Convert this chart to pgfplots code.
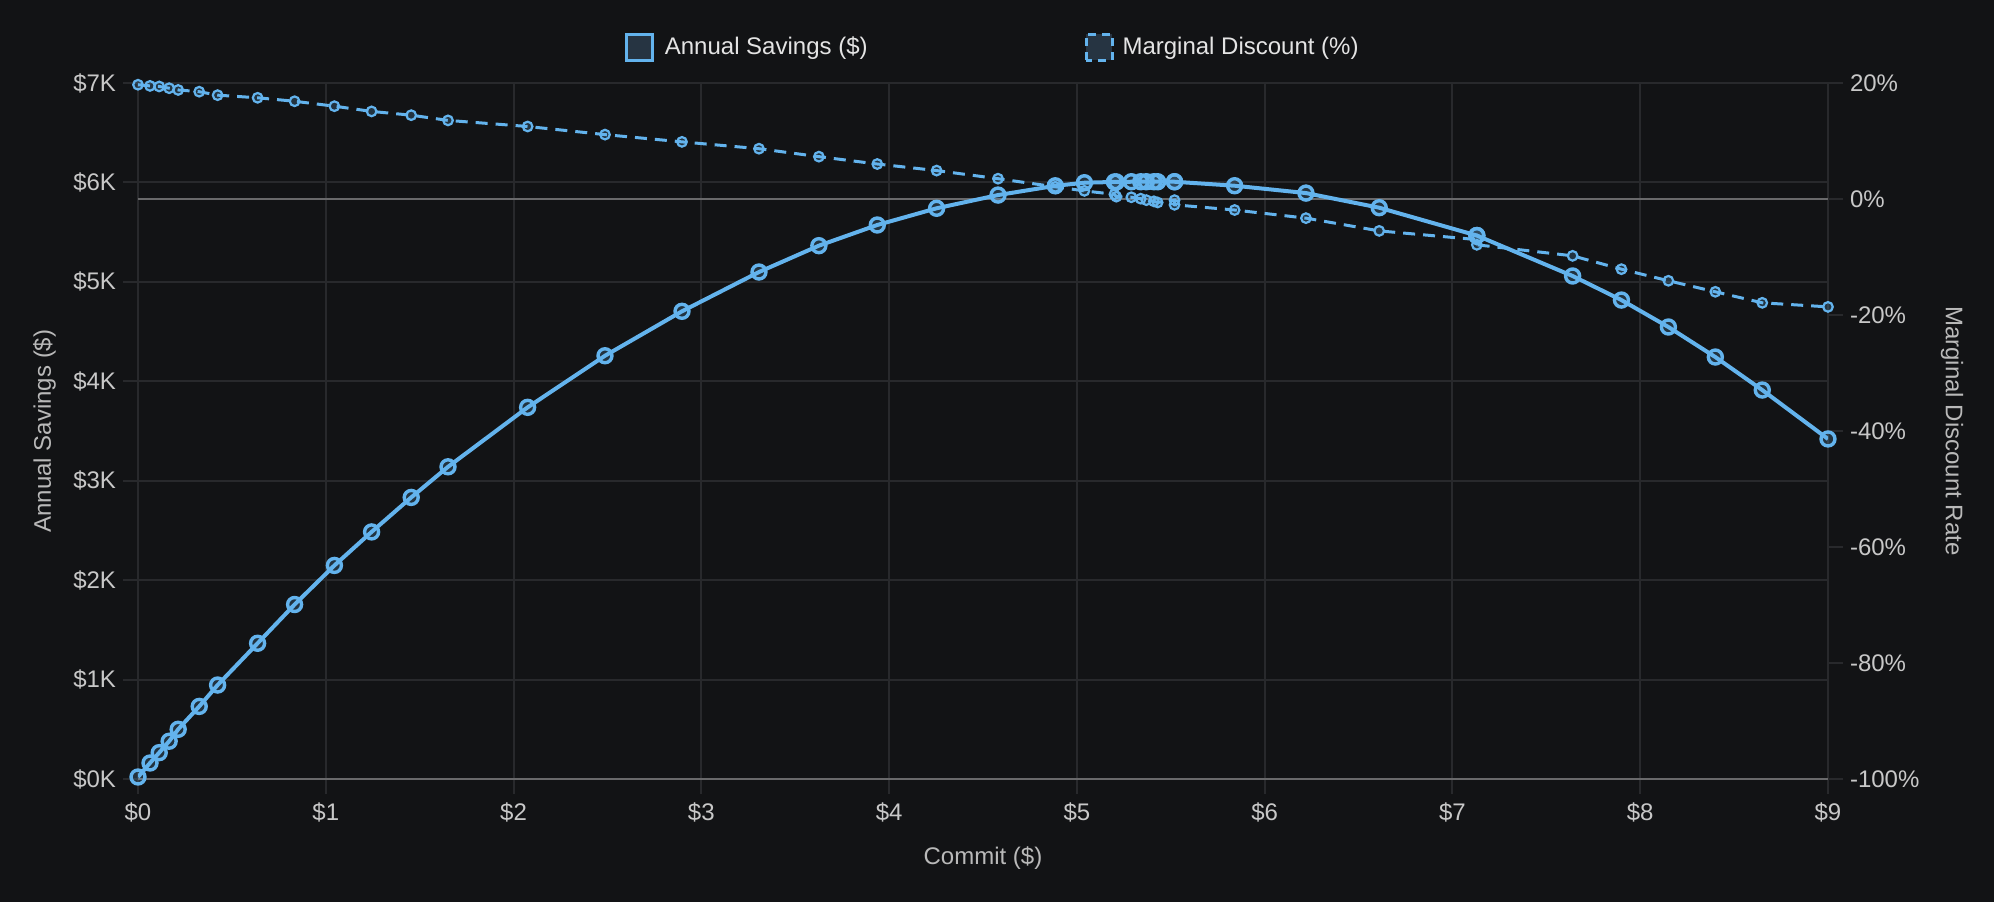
\documentclass[border=0pt]{standalone}
\usepackage{pgfplots}
\usepackage{pgfplotstable}
\pgfplotsset{compat=1.18}
\usepackage{fontspec}
\setmainfont{Liberation Sans}
\definecolor{bg}{RGB}{18,19,21}
\definecolor{gridc}{RGB}{40,41,44}
\definecolor{zeroc}{RGB}{105,105,107}
\definecolor{sky}{RGB}{99,179,237}
\definecolor{legfill}{RGB}{38,52,66}
\definecolor{tickc}{RGB}{200,200,200}
\definecolor{labc}{RGB}{185,185,185}
\definecolor{legc}{RGB}{228,228,228}
\newcommand\tf{\fontsize{12bp}{14bp}\selectfont}

\pgfplotstableread{
x s d
0.000 20 19.7
0.064 161 19.5
0.113 265 19.4
0.166 380 19.1
0.214 500 18.8
0.326 730 18.5
0.424 945 17.9
0.637 1365 17.45
0.834 1755 16.85
1.046 2148 16.0
1.244 2485 15.1
1.455 2832 14.45
1.651 3140 13.55
2.075 3738 12.5
2.487 4257 11.1
2.897 4704 9.85
3.307 5099 8.67
3.626 5364 7.3
3.937 5572 6.03
4.253 5740 4.9
4.580 5873 3.5
4.885 5966 2.1
5.040 5997 1.4
5.200 6005 0.8
5.210 6005 0.4
5.290 6007 0.3
5.340 6007 0.05
5.370 6007 -0.2
5.410 6007 -0.4
5.430 6007 -0.6
5.520 6007 -0.2
5.520 6007 -1.0
5.840 5967 -1.9
6.220 5893 -3.3
6.610 5746 -5.5
7.130 5466 -7.0
7.130 5466 -7.9
7.640 5059 -9.8
7.900 4817 -12.1
8.150 4546 -14.1
8.400 4244 -16.0
8.650 3912 -17.9
9.000 3420 -18.6
}\data

\begin{document}
\begin{tikzpicture}
\fill[bg] (-69bp,-61.5bp) rectangle (928bp,389.5bp);
\pgfplotsset{base/.style={scale only axis, width=845bp, height=348bp,
  xmin=0, xmax=9, at={(0,0)}, anchor=south west}}
% axis 1: grid, left ticks, zero lines
\begin{axis}[base, ymin=0, ymax=7000, clip=false,
  xtick={0,1,...,9}, xticklabels={\$0,\$1,\$2,\$3,\$4,\$5,\$6,\$7,\$8,\$9},
  ytick={0,1000,...,7000}, yticklabels={\$0K,\$1K,\$2K,\$3K,\$4K,\$5K,\$6K,\$7K},
  grid=major, major grid style={gridc, line width=1bp},
  axis line style={draw=none},
  tick style={gridc, line width=1bp}, major tick length=7.5bp, tick align=outside,
  xtick pos=bottom, ytick pos=left,
  tick label style={font=\tf, text=tickc},
  xticklabel style={yshift=-1bp},
  xlabel={Commit (\$)}, ylabel={Annual Savings (\$)},
  label style={font=\tf, text=labc},
  xlabel style={at={(axis description cs:0.5,-0.11351)}, anchor=center},
  ylabel style={at={(axis description cs:-0.05533,0.5)}, anchor=center}]
\addplot[zeroc, line width=1.4bp, forget plot] coordinates {(0,0) (9,0)};
\addplot[zeroc, line width=1.4bp, forget plot] coordinates {(0,5833.33) (9,5833.33)};
\end{axis}
% axis 2: right axis, discount
\begin{axis}[base, ymin=-100, ymax=20, hide x axis, axis y line*=right,
  axis line style={draw=none},
  ytick={-100,-80,...,20}, yticklabels={-100\%,-80\%,-60\%,-40\%,-20\%,0\%,20\%},
  tick style={gridc, line width=1bp}, major tick length=7.5bp, tick align=outside,
  tick label style={font=\tf, text=tickc},
  ylabel={Marginal Discount Rate},
  ylabel style={font=\tf, text=labc, at={(axis description cs:1.07337,0.5)}, anchor=center, rotate=180}]
\addplot[sky, line width=1.5bp, dash pattern=on 6bp off 4bp, mark=*, mark size=2.4bp,
  mark options={solid, line width=1.1bp, fill=sky, fill opacity=0.2}] table[x=x,y=d]{\data};
\end{axis}
% axis 3: savings on top + legend
\begin{axis}[base, ymin=0, ymax=7000, hide axis,
  legend style={at={(axis description cs:0.5065,1.0517)}, anchor=center,
    draw=none, fill=none, legend columns=2, font=\tf, text=legc,
    /tikz/column 2/.style={column sep=106.5bp}},
  legend image code/.code={\draw[#1, line width=1.5bp, fill=legfill] (0bp,-6.5bp) rectangle (13bp,6.5bp); \path (16bp,0bp);}]
\addplot[sky, line width=2bp, mark=*, mark size=3.5bp,
  mark options={line width=1.7bp, fill=sky, fill opacity=0.2}] table[x=x,y=s]{\data};
\addlegendentry{Annual Savings (\$)}
\addlegendimage{sky, dash pattern=on 4bp off 3bp}
\addlegendentry{Marginal Discount (\%)}
\end{axis}
\end{tikzpicture}
\end{document}
